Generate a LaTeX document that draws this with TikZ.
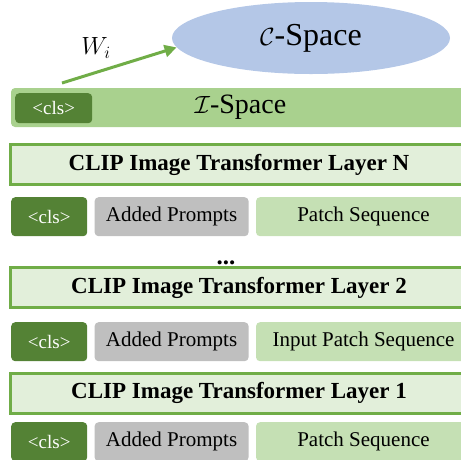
\documentclass[tikz,border=0pt]{standalone}
\usepackage{fontspec}
\setmainfont{Liberation Serif}
\usetikzlibrary{shapes.geometric,arrows.meta,positioning}

\definecolor{clsgreen}{HTML}{548235}
\definecolor{ispacegreen}{HTML}{A9D18E}
\definecolor{layerfill}{HTML}{E2EFDA}
\definecolor{layerline}{HTML}{70AD47}
\definecolor{promptgray}{HTML}{BFBFBF}
\definecolor{patchgreen}{HTML}{C5E0B4}
\definecolor{cspaceblue}{HTML}{B4C7E7}

\tikzset{
  token/.style={rounded corners=4pt, inner sep=0pt, minimum height=39pt,
    anchor=north west, font=\fontsize{21}{24}\selectfont},
  clstoken/.style={token, fill=clsgreen, text=white, minimum width=76pt,
    font=\fontsize{19}{22}\selectfont},
  prompttoken/.style={token, fill=promptgray, minimum width=154pt},
  patchtoken/.style={token, fill=patchgreen, minimum width=215pt},
  layer/.style={draw=layerline, line width=3pt, fill=layerfill,
    minimum width=458pt, minimum height=40pt, inner sep=0pt,
    font=\fontsize{23}{26}\selectfont\bfseries},
}

\begin{document}
\begin{tikzpicture}[x=1pt,y=-1pt]
  \useasboundingbox (0,0) rectangle (461,459);
  \clip (0,0) rectangle (461,459);

  % C-Space
  \node[ellipse, fill=cspaceblue, minimum width=278pt, minimum height=72pt,
    inner sep=0pt, font=\fontsize{32}{36}\selectfont]
    (cspace) at (311,38) {$\mathcal{C}$-Space};

  % I-Space bar
  \node[rounded corners=4pt, fill=ispacegreen, minimum width=459pt,
    minimum height=39pt, inner sep=0pt, font=\fontsize{28}{32}\selectfont]
    (ispace) at (240.5,107.5) {$\mathcal{I}$-Space};
  \node[clstoken, minimum width=77pt, minimum height=30pt] (clsI) at (15,93) {<cls>};

  % projection
  \coordinate (wstart) at (62,83);
  \draw[layerline, line width=3pt, -{Triangle[length=12pt,width=12pt]}]
    (wstart) -- (cspace.184);
  \node[font=\fontsize{24}{28}\selectfont] (wlabel) at (96,48) {$W_i$};

  % layer N
  \node[layer] (layerN) at (239,164.5) {CLIP Image Transformer Layer N};
  \node[clstoken] (clsN) at (11,197) {<cls>};
  \node[prompttoken, right=7pt of clsN.north east, anchor=north west] (promptN) {Added Prompts};
  \node[patchtoken, right=7pt of promptN.north east, anchor=north west] (patchN) {Patch Sequence};

  \node[font=\fontsize{25}{28}\selectfont\bfseries] (dots) at (226,263) {...};

  % layer 2
  \node[layer] (layer2) at (239,287.5) {CLIP Image Transformer Layer 2};
  \node[clstoken] (cls2) at (11,322) {<cls>};
  \node[prompttoken, right=7pt of cls2.north east, anchor=north west] (prompt2) {Added Prompts};
  \node[patchtoken, right=7pt of prompt2.north east, anchor=north west] (patch2) {Input Patch Sequence};

  % layer 1
  \node[layer] (layer1) at (239,393) {CLIP Image Transformer Layer 1};
  \node[clstoken] (cls1) at (11,422) {<cls>};
  \node[prompttoken, right=7pt of cls1.north east, anchor=north west] (prompt1) {Added Prompts};
  \node[patchtoken, right=7pt of prompt1.north east, anchor=north west] (patch1) {Patch Sequence};
\end{tikzpicture}
\end{document}
